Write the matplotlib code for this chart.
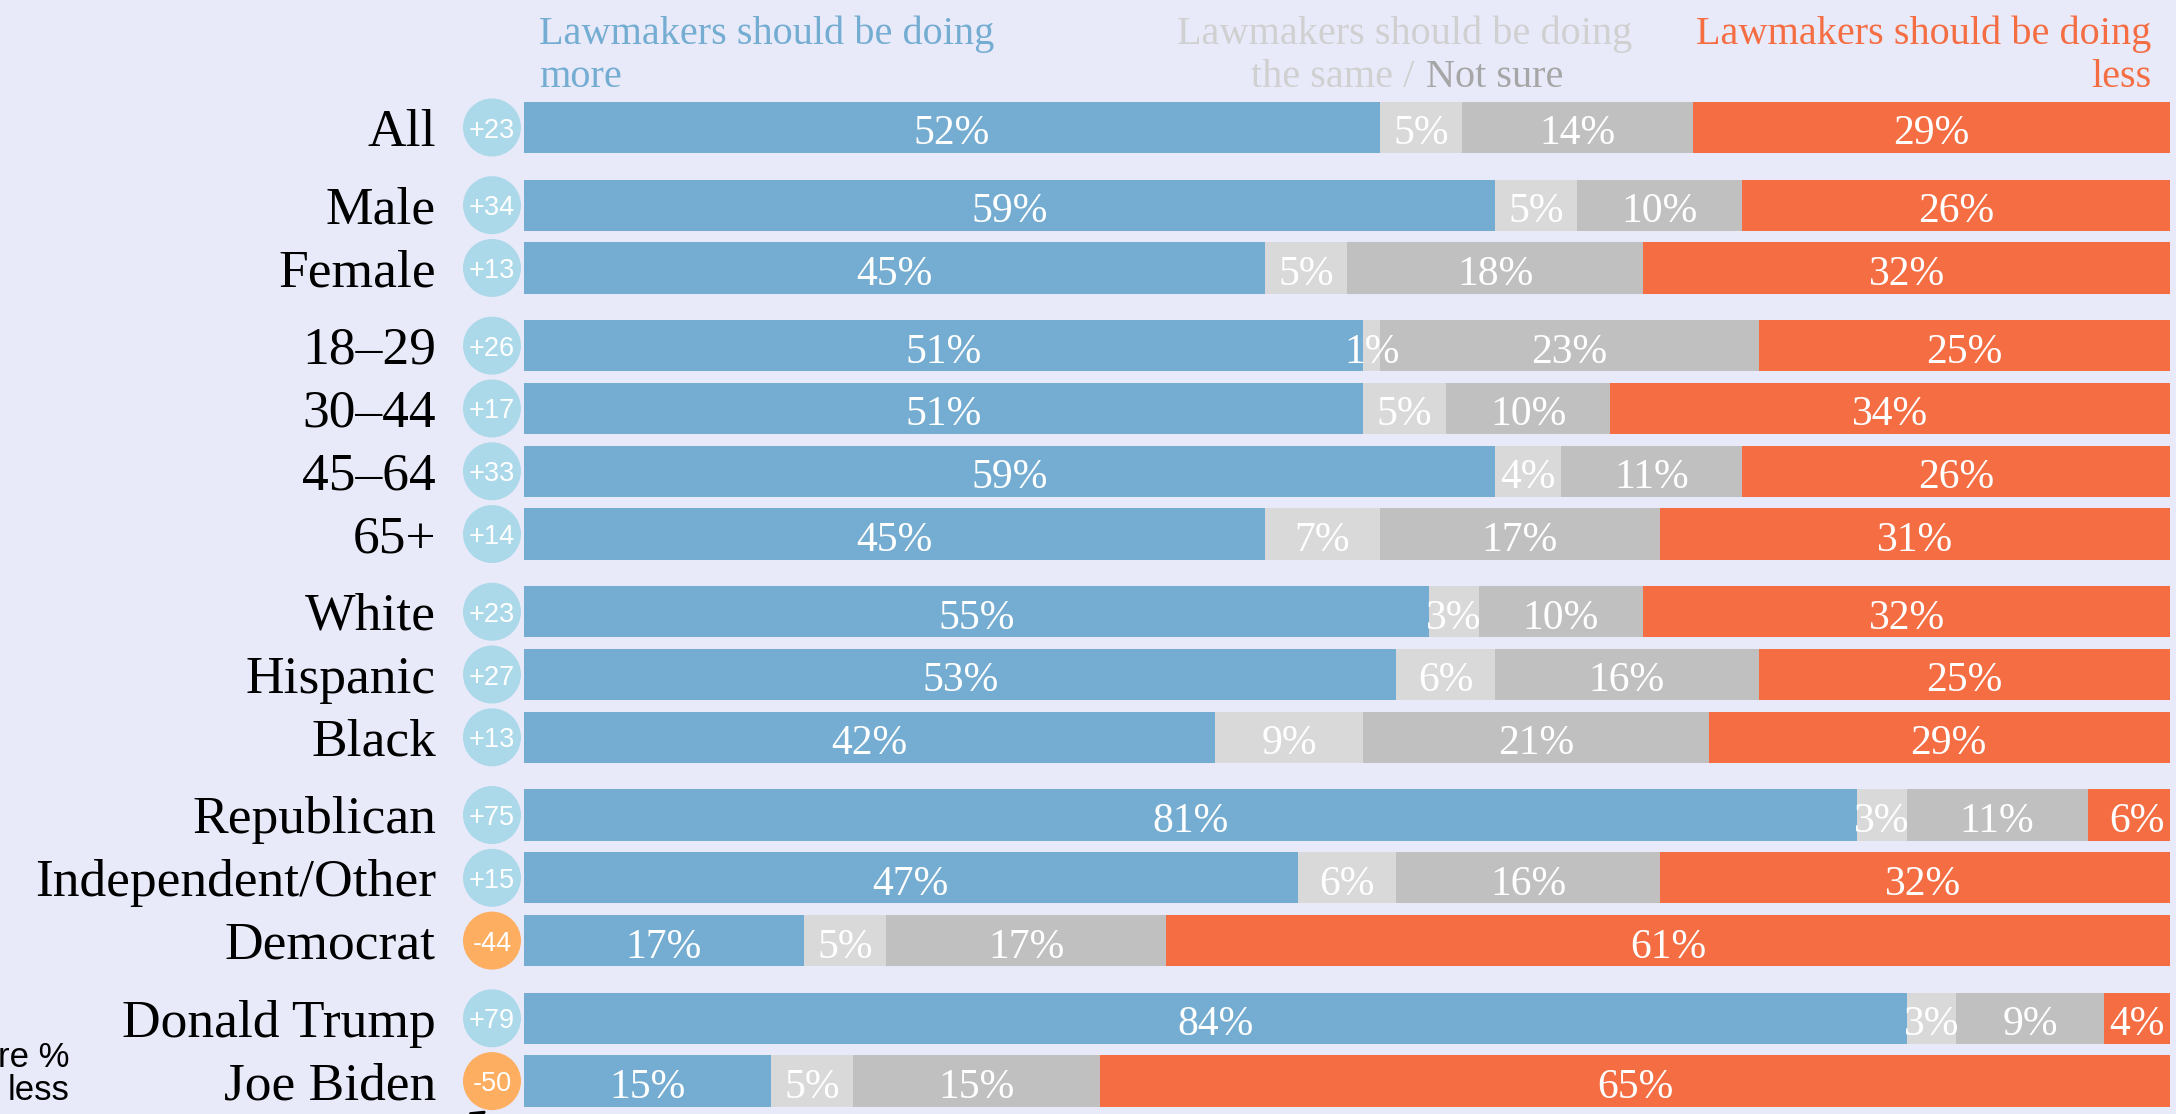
import matplotlib.pyplot as plt

# ---- data ----
categories = ["All", "Male", "Female", "18–29", "30–44", "45–64", "65+",
              "White", "Hispanic", "Black", "Republican", "Independent/Other",
              "Democrat", "Donald Trump", "Joe Biden"]
groups = [0, 1, 1, 2, 2, 2, 2, 3, 3, 3, 4, 4, 4, 5, 5]
more = [52, 59, 45, 51, 51, 59, 45, 55, 53, 42, 81, 47, 17, 84, 15]
same = [5, 5, 5, 1, 5, 4, 7, 3, 6, 9, 3, 6, 5, 3, 5]
not_sure = [14, 10, 18, 23, 10, 11, 17, 10, 16, 21, 11, 16, 17, 9, 15]
less = [29, 26, 32, 25, 34, 26, 31, 32, 25, 29, 6, 32, 61, 4, 65]
net = [23, 34, 13, 26, 17, 33, 14, 23, 27, 13, 75, 15, -44, 79, -50]

# ---- style ----
BG = "#e8eafa"
C_MORE = "#74add1"
C_SAME = "#d9d9d9"
C_NOTSURE = "#c0c0c0"
C_LESS = "#f46d43"
C_POS = "#abd9e9"
C_NEG = "#fdae61"
SERIF = ["Liberation Serif", "DejaVu Serif"]
SANS = ["Liberation Sans", "DejaVu Sans"]

W, H = 2176, 1114
fig = plt.figure(figsize=(W / 100, H / 100), dpi=100, facecolor=BG)

# pixel-space background axes for loose annotations
ax_bg = fig.add_axes([0, 0, 1, 1], zorder=0)
ax_bg.set_xlim(0, W)
ax_bg.set_ylim(H, 0)
ax_bg.axis("off")

# bar axes: x in percent, y in row units (1 unit = one row step)
step_px = 62.8
ax = fig.add_axes([524 / W, 0, 1646 / W, 1], zorder=1)
ax.set_xlim(0, 100)
ax.set_ylim(H / step_px, 0)
ax.axis("off")
ax.patch.set_alpha(0)

y = [2.03 + i + 0.237 * g for i, g in enumerate(groups)]
bar_h = 0.817

segments = [(more, C_MORE), (same, C_SAME), (not_sure, C_NOTSURE), (less, C_LESS)]
left = [0] * len(categories)
for vals, col in segments:
    ax.barh(y, vals, left=left, height=bar_h, color=col, linewidth=0)
    for yi, l, v in zip(y, left, vals):
        ax.text(l + v / 2, yi + 0.27, f"{v}%", ha="center", va="baseline",
                fontsize=30, color="white", family=SERIF)
    left = [l + v for l, v in zip(left, vals)]

# net circles
circ_x = (492 - 524) / 16.46
circ_cols = [C_POS if n >= 0 else C_NEG for n in net]
ax.scatter([circ_x] * len(net), y, s=(58 * 0.72) ** 2, c=circ_cols,
           linewidths=0, clip_on=False, zorder=3)
for yi, n in zip(y, net):
    ax.text(circ_x, yi + 0.16, f"{n:+d}", ha="center", va="baseline",
            fontsize=19.5, color="white", family=SANS, zorder=4, clip_on=False)

# category labels
lab_x = (436 - 524) / 16.46
for yi, name in zip(y, categories):
    ax.text(lab_x, yi + 0.29, name, ha="right", va="baseline",
            fontsize=38.5, color="black", family=SERIF, clip_on=False)

# headers
l1 = 44 / step_px
l2 = 87 / step_px
ax.text(0.9, l1, "Lawmakers should be doing", ha="left", va="baseline",
        fontsize=29, color=C_MORE, family=SERIF)
ax.text(0.9, l2, "more", ha="left", va="baseline",
        fontsize=29, color=C_MORE, family=SERIF)
ax.text(53.5, l1, "Lawmakers should be doing", ha="center", va="baseline",
        fontsize=29, color="#d0d0d0", family=SERIF)
ax.text(54.1, l2, "the same /", ha="right", va="baseline",
        fontsize=29, color="#d0d0d0", family=SERIF)
ax.text(54.8, l2, "Not sure", ha="left", va="baseline",
        fontsize=29, color="#a6a6a6", family=SERIF)
ax.text(98.85, l1, "Lawmakers should be doing", ha="right", va="baseline",
        fontsize=29, color=C_LESS, family=SERIF)
ax.text(98.85, l2, "less", ha="right", va="baseline",
        fontsize=29, color=C_LESS, family=SERIF)

# cropped explanatory note (only the visible part) + arrow at the bottom left
ax_bg.text(69, 1067, "re %", ha="right", va="baseline",
           fontsize=25, color="black", family=SANS)
ax_bg.text(69, 1100, "less", ha="right", va="baseline",
           fontsize=25, color="black", family=SANS)
ax_bg.annotate("", xy=(489, 1109), xytext=(440, 1140),
               arrowprops=dict(arrowstyle="-|>", color="black", lw=2,
                               mutation_scale=22), annotation_clip=False)

fig.savefig("out.png", dpi=100, facecolor=BG)
